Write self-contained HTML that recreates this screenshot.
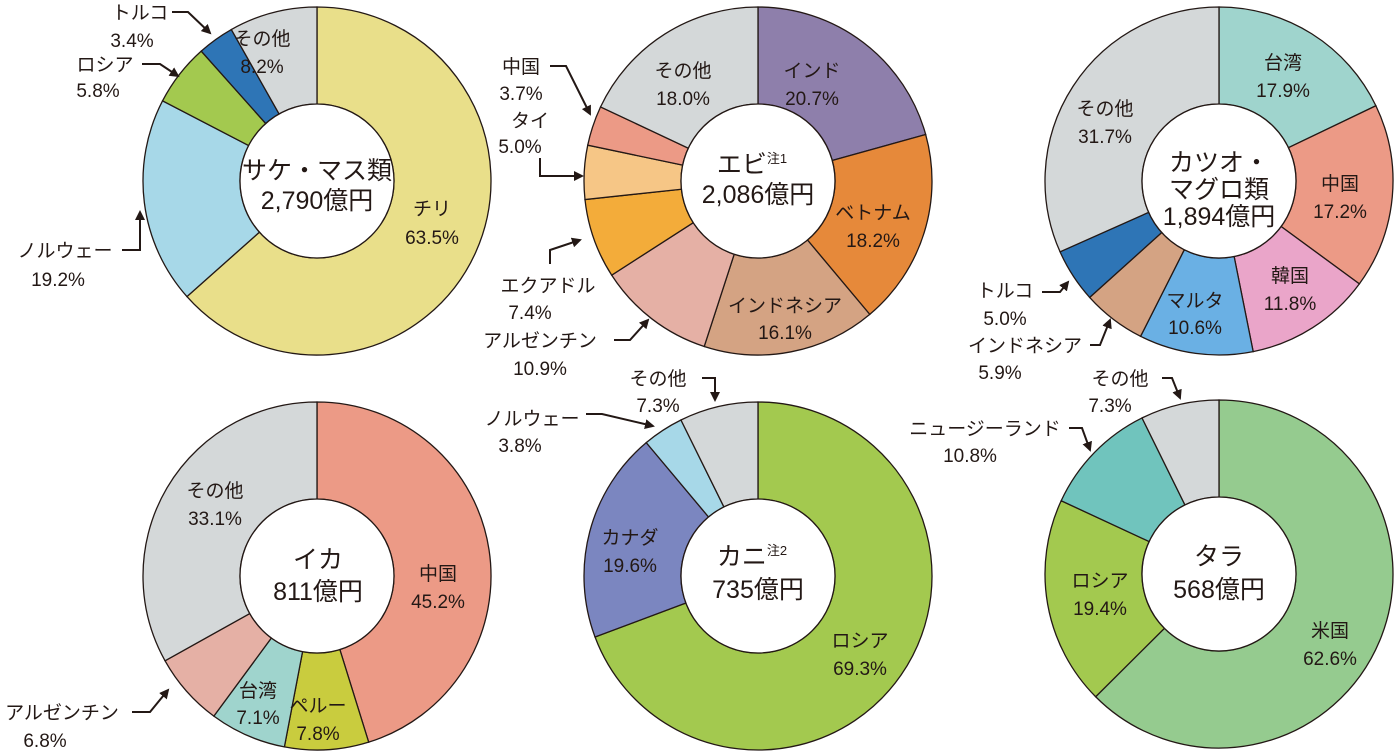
<!DOCTYPE html>
<html><head><meta charset="utf-8"><style>
html,body{margin:0;padding:0;background:#fff}
svg{display:block}
text{font-family:"Liberation Sans","Noto Sans CJK JP",sans-serif;fill:#231815;text-anchor:middle}
.l{font-size:19px}
.c{font-size:25px}
.ln{fill:none;stroke:#231815;stroke-width:2}
</style></head><body>
<svg id="s" width="1397" height="752" viewBox="0 0 1397 752" xmlns="http://www.w3.org/2000/svg">
<defs><marker id="a" viewBox="0 0 10 10" refX="8" refY="5" markerWidth="5" markerHeight="5" orient="auto"><path d="M0,0L10,5L0,10z" fill="#231815"/></marker></defs>
<g id="pies"></g>
<!-- chart1 -->
<text class="c" x="317" y="179">サケ・マス類</text><text class="c" x="317" y="209">2,790億円</text>
<text class="l" x="262" y="45">その他</text><text class="l" x="262" y="73">8.2%</text>
<text class="l" x="432" y="215">チリ</text><text class="l" x="432" y="244">63.5%</text>
<text class="l" x="140" y="19">トルコ</text><text class="l" x="132" y="47">3.4%</text>
<text class="l" x="105" y="71">ロシア</text><text class="l" x="98" y="97">5.8%</text>
<text class="l" x="65" y="257">ノルウェー</text><text class="l" x="58" y="286">19.2%</text>
<path class="ln" d="M172,12H188L210,33" marker-end="url(#a)"/>
<path class="ln" d="M142,64H160L178,76" marker-end="url(#a)"/>
<path class="ln" d="M122,250H140V212" marker-end="url(#a)"/>
<!-- chart2 -->
<text class="c" x="752" y="173">エビ<tspan font-size="13" dy="-10">注1</tspan></text><text class="c" x="758" y="203">2,086億円</text>
<text class="l" x="812" y="77">インド</text><text class="l" x="812" y="105">20.7%</text>
<text class="l" x="683" y="77">その他</text><text class="l" x="683" y="105">18.0%</text>
<text class="l" x="873" y="219">ベトナム</text><text class="l" x="873" y="247">18.2%</text>
<text class="l" x="785" y="312">インドネシア</text><text class="l" x="785" y="339">16.1%</text>
<text class="l" x="521" y="73">中国</text><text class="l" x="521" y="100">3.7%</text>
<text class="l" x="530" y="127">タイ</text><text class="l" x="520" y="153">5.0%</text>
<text class="l" x="548" y="292">エクアドル</text><text class="l" x="530" y="319">7.4%</text>
<text class="l" x="540" y="347">アルゼンチン</text><text class="l" x="540" y="375">10.9%</text>
<path class="ln" d="M550,66H566L590,114" marker-end="url(#a)"/>
<path class="ln" d="M540,158V176H582" marker-end="url(#a)"/>
<path class="ln" d="M550,264V250L580,240" marker-end="url(#a)"/>
<path class="ln" d="M614,340H630L648,320" marker-end="url(#a)"/>
<!-- chart3 -->
<text class="c" x="1219" y="171">カツオ・</text><text class="c" x="1219" y="198">マグロ類</text><text class="c" x="1219" y="225">1,894億円</text>
<text class="l" x="1283" y="69">台湾</text><text class="l" x="1283" y="97">17.9%</text>
<text class="l" x="1105" y="115">その他</text><text class="l" x="1105" y="143">31.7%</text>
<text class="l" x="1340" y="190">中国</text><text class="l" x="1340" y="218">17.2%</text>
<text class="l" x="1290" y="282">韓国</text><text class="l" x="1290" y="310">11.8%</text>
<text class="l" x="1195" y="307">マルタ</text><text class="l" x="1195" y="334">10.6%</text>
<text class="l" x="1005" y="297">トルコ</text><text class="l" x="1005" y="325">5.0%</text>
<text class="l" x="1025" y="352">インドネシア</text><text class="l" x="1000" y="379">5.9%</text>
<path class="ln" d="M1042,292H1060L1068,282" marker-end="url(#a)"/>
<path class="ln" d="M1090,345H1100L1110,320" marker-end="url(#a)"/>
<!-- chart4 -->
<text class="c" x="318" y="568">イカ</text><text class="c" x="318" y="600">811億円</text>
<text class="l" x="215" y="497">その他</text><text class="l" x="215" y="525">33.1%</text>
<text class="l" x="438" y="580">中国</text><text class="l" x="438" y="608">45.2%</text>
<text class="l" x="258" y="697">台湾</text><text class="l" x="258" y="724">7.1%</text>
<text class="l" x="318" y="712">ペルー</text><text class="l" x="318" y="740">7.8%</text>
<text class="l" x="62" y="719">アルゼンチン</text><text class="l" x="45" y="747">6.8%</text>
<path class="ln" d="M132,712H150L168,690" marker-end="url(#a)"/>
<!-- chart5 -->
<text class="c" x="752" y="565">カニ<tspan font-size="13" dy="-10">注2</tspan></text><text class="c" x="758" y="598">735億円</text>
<text class="l" x="860" y="647">ロシア</text><text class="l" x="860" y="675">69.3%</text>
<text class="l" x="630" y="544">カナダ</text><text class="l" x="630" y="572">19.6%</text>
<text class="l" x="658" y="385">その他</text><text class="l" x="658" y="412">7.3%</text>
<text class="l" x="532" y="425">ノルウェー</text><text class="l" x="520" y="452">3.8%</text>
<path class="ln" d="M702,378H715V400" marker-end="url(#a)"/>
<path class="ln" d="M586,414H602L653,426" marker-end="url(#a)"/>
<!-- chart6 -->
<text class="c" x="1219" y="565">タラ</text><text class="c" x="1219" y="598">568億円</text>
<text class="l" x="1330" y="637">米国</text><text class="l" x="1330" y="665">62.6%</text>
<text class="l" x="1100" y="587">ロシア</text><text class="l" x="1100" y="615">19.4%</text>
<text class="l" x="1120" y="385">その他</text><text class="l" x="1110" y="412">7.3%</text>
<text class="l" x="985" y="435">ニュージーランド</text><text class="l" x="970" y="462">10.8%</text>
<path class="ln" d="M1162,378H1172L1180,398" marker-end="url(#a)"/>
<path class="ln" d="M1069,428H1082L1090,450" marker-end="url(#a)"/>
</svg>
<script>
var charts=[
[317,181,[[63.5,'#e9df8a'],[19.2,'#a7d8e8'],[5.8,'#a3c94f'],[3.4,'#2e75b6'],[8.2,'#d4d8d9']]],
[758,181,[[20.7,'#8e7fab'],[18.2,'#e6893a'],[16.1,'#d4a383'],[10.9,'#e5b0a5'],[7.4,'#f3ac3a'],[5.0,'#f6c686'],[3.7,'#ec9a86'],[18.0,'#d4d8d9']]],
[1219,181,[[17.9,'#9fd4cd'],[17.2,'#ec9a86'],[11.8,'#eaa5c9'],[10.6,'#6ab0e4'],[5.9,'#d4a383'],[5.0,'#2e75b6'],[31.7,'#d4d8d9']]],
[317,576,[[45.2,'#ec9a86'],[7.8,'#c9cc3e'],[7.1,'#9fd4cd'],[6.8,'#e5b0a5'],[33.1,'#d4d8d9']]],
[758,576,[[69.3,'#a3c94f'],[19.6,'#7b86c0'],[3.8,'#a7d8e8'],[7.3,'#d4d8d9']]],
[1219,574,[[62.6,'#95cb8f'],[19.4,'#a3c94f'],[10.8,'#70c4bd'],[7.3,'#d4d8d9']]]];
var R=174,r=77,h='';
charts.forEach(function(c){
 var cx=c[0],cy=c[1],tot=0;c[2].forEach(function(s){tot+=s[0]});
 var a=0;
 c[2].forEach(function(s){
  var a0=a/tot*2*Math.PI,a1=(a+s[0])/tot*2*Math.PI;a+=s[0];
  function p(rr,t){return (cx+rr*Math.sin(t)).toFixed(2)+','+(cy-rr*Math.cos(t)).toFixed(2)}
  var lg=(a1-a0)>Math.PI?1:0;
  h+='<path d="M'+p(R,a0)+'A'+R+','+R+' 0 '+lg+' 1 '+p(R,a1)+'L'+p(r,a1)+'A'+r+','+r+' 0 '+lg+' 0 '+p(r,a0)+'Z" fill="'+s[1]+'" stroke="#231815" stroke-width="1.3"/>';
 });
 h+='<circle cx="'+cx+'" cy="'+cy+'" r="'+r+'" fill="#fff" stroke="#231815" stroke-width="1.3"/>';
});
document.getElementById('pies').innerHTML=h;
</script>
</body></html>
